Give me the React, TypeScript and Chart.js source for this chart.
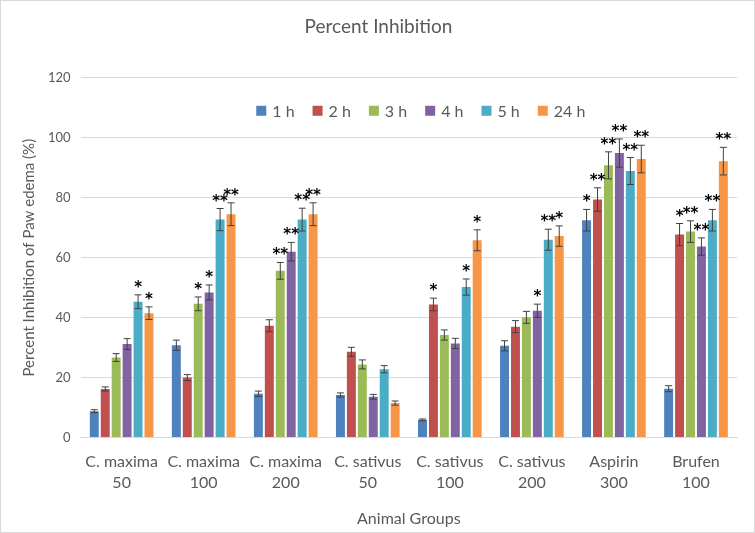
import React, { useEffect, useRef } from "react";
import { Chart, registerables } from "chart.js";
Chart.register(...registerables);

const groups = [
  ["C. maxima", "50"],
  ["C. maxima", "100"],
  ["C. maxima", "200"],
  ["C. sativus", "50"],
  ["C. sativus", "100"],
  ["C. sativus", "200"],
  ["Aspirin", "300"],
  ["Brufen", "100"],
];
const seriesLabels = ["1 h", "2 h", "3 h", "4 h", "5 h", "24 h"];
const colors = ["#4F81BD", "#C0504D", "#9BBB59", "#8064A2", "#4BACC6", "#F79646"];

const h1 = [8.8, 30.8, 14.6, 14.2, 5.9, 30.6, 72.5, 16.3];
const h2 = [16.2, 20.0, 37.3, 28.6, 44.4, 37.0, 79.4, 67.7];
const h3 = [26.7, 44.6, 55.6, 24.4, 34.2, 40.1, 90.8, 68.7];
const h4 = [31.2, 48.4, 62.0, 13.6, 31.4, 42.3, 94.9, 63.7];
const h5 = [45.3, 72.7, 72.7, 22.8, 50.2, 66.0, 88.9, 72.5];
const h24 = [41.5, 74.5, 74.5, 11.5, 65.8, 67.2, 92.9, 92.2];

const e1 = [0.5, 1.7, 0.9, 0.7, 0.3, 1.7, 3.6, 1.0];
const e2 = [0.7, 1.0, 2.0, 1.5, 2.1, 2.0, 3.9, 3.7];
const e3 = [1.3, 2.3, 2.8, 1.5, 1.7, 2.0, 4.5, 3.6];
const e4 = [1.8, 2.5, 3.1, 0.8, 1.7, 2.2, 4.7, 2.9];
const e5 = [2.3, 3.7, 3.8, 1.2, 2.7, 3.5, 4.5, 3.6];
const e24 = [2.1, 3.8, 3.8, 0.7, 3.5, 3.4, 4.6, 4.6];

const s1 = ["", "", "", "", "", "", "*", ""];
const s2 = ["", "", "", "", "*", "", "**", "*"];
const s3 = ["", "*", "**", "", "", "", "**", "**"];
const s4 = ["", "*", "**", "", "", "*", "**", "**"];
const s5 = ["*", "**", "**", "", "*", "**", "**", "**"];
const s24 = ["*", "**", "**", "", "*", "*", "**", "**"];

const values = [h1, h2, h3, h4, h5, h24];
const errors = [e1, e2, e3, e4, e5, e24];
const stars = [s1, s2, s3, s4, s5, s24];

const FONT = "Lato, 'Open Sans', sans-serif";
const TEXT = "#595959";

const errorStarPlugin = {
  id: "errorStars",
  afterDatasetsDraw(chart: any) {
    const ctx = chart.ctx;
    const y = chart.scales.y;
    chart.data.datasets.forEach((ds: any, di: number) => {
      const meta = chart.getDatasetMeta(di);
      meta.data.forEach((el: any, i: number) => {
        const v = ds.data[i];
        const e = errors[di][i];
        const yt = y.getPixelForValue(v + e);
        const yb = y.getPixelForValue(v - e);
        const x = el.x;
        ctx.save();
        ctx.strokeStyle = "#404040";
        ctx.lineWidth = 1;
        ctx.beginPath();
        ctx.moveTo(x, yt);
        ctx.lineTo(x, yb);
        ctx.moveTo(x - 3.5, yt);
        ctx.lineTo(x + 3.5, yt);
        ctx.moveTo(x - 3.5, yb);
        ctx.lineTo(x + 3.5, yb);
        ctx.stroke();
        const s = stars[di][i];
        if (s) {
          ctx.fillStyle = "#000";
          ctx.font = "bold 15px 'DejaVu Sans', sans-serif";
          ctx.textAlign = "center";
          ctx.textBaseline = "alphabetic";
          ctx.fillText(s, x, yt - 3);
        }
        ctx.restore();
      });
    });
  },
};

const legendPlugin = {
  id: "customLegend",
  afterDraw(chart: any) {
    const ctx = chart.ctx;
    const area = chart.chartArea;
    const y = chart.scales.y.getPixelForValue(109);
    ctx.save();
    ctx.font = `16px ${FONT}`;
    const box = 10;
    const gap = 6;
    const spacing = 18;
    const widths = seriesLabels.map((l) => box + gap + ctx.measureText(l).width);
    const total = widths.reduce((a, b) => a + b, 0) + spacing * (widths.length - 1);
    let x = (area.left + area.right) / 2 + 12 - total / 2;
    seriesLabels.forEach((l, i) => {
      ctx.fillStyle = colors[i];
      ctx.fillRect(x, y - box / 2, box, box);
      ctx.fillStyle = TEXT;
      ctx.textAlign = "left";
      ctx.textBaseline = "middle";
      ctx.fillText(l, x + box + gap, y + 1);
      x += widths[i] + spacing;
    });
    ctx.restore();
  },
};

export default function App() {
  const ref = useRef<HTMLCanvasElement | null>(null);
  useEffect(() => {
    if (!ref.current) return;
    const chart = new Chart(ref.current, {
      type: "bar",
      data: {
        labels: groups,
        datasets: seriesLabels.map((l, i) => ({
          label: l,
          data: values[i],
          backgroundColor: colors[i],
          categoryPercentage: 0.8,
          barPercentage: 0.82,
        })),
      },
      options: {
        animation: false,
        responsive: false,
        maintainAspectRatio: false,
        layout: { padding: { left: 19, right: 17, top: 0, bottom: 4 } },
        plugins: {
          legend: { display: false },
          tooltip: { enabled: false },
          title: {
            display: true,
            text: "Percent Inhibition",
            color: TEXT,
            font: { family: FONT, size: 19, weight: "normal" },
            padding: { top: 14, bottom: 40 },
          },
        },
        scales: {
          x: {
            grid: { display: false, drawTicks: false },
            border: { color: "#d9d9d9" },
            ticks: {
              color: TEXT,
              font: { family: FONT, size: 16, lineHeight: 1.32 },
              maxRotation: 0,
              autoSkip: false,
              padding: 14,
            },
            title: {
              display: true,
              text: "Animal Groups",
              color: TEXT,
              font: { family: FONT, size: 16 },
              padding: { top: 1, bottom: 0 },
            },
          },
          y: {
            min: 0,
            max: 120,
            ticks: {
              stepSize: 20,
              color: TEXT,
              font: { family: FONT, size: 13 },
              padding: 10,
            },
            grid: { color: "#d9d9d9", drawTicks: false },
            border: { display: false },
            title: {
              display: true,
              text: "Percent Inhibition of Paw edema (%)",
              color: TEXT,
              font: { family: FONT, size: 15 },
              padding: { top: 0, bottom: 0 },
            },
          },
        },
      },
      plugins: [errorStarPlugin, legendPlugin],
    });
    return () => chart.destroy();
  }, []);
  return (
    <div
      style={{
        position: "fixed",
        left: 0,
        top: 0,
        width: 755,
        height: 533,
        boxSizing: "border-box",
        border: "1px solid #d9d9d9",
        background: "#fff",
      }}
    >
      <canvas ref={ref} width={753} height={531} />
    </div>
  );
}
